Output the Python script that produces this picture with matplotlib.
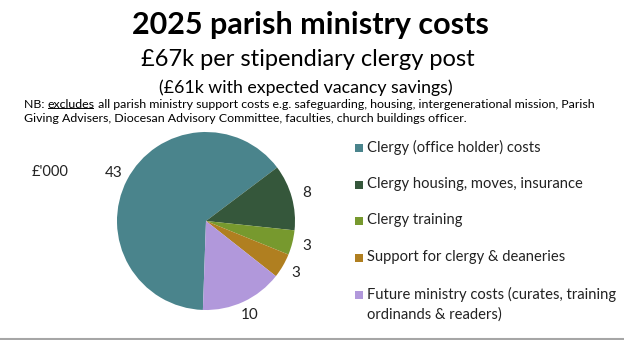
import matplotlib
matplotlib.use("Agg")
import matplotlib.pyplot as plt
from matplotlib.patches import Rectangle
from matplotlib.lines import Line2D

plt.rcParams['font.family'] = ['Lato', 'DejaVu Sans']

categories = ["Clergy (office holder) costs",
              "Clergy housing, moves, insurance",
              "Clergy training",
              "Support for clergy & deaneries",
              "Future ministry costs (curates, training\nordinands & readers)"]
values = [43, 8, 3, 3, 10]
colors = ["#4A848C", "#35573B", "#77992E", "#B07F20", "#B198DB"]

W, H = 624, 340
fig = plt.figure(figsize=(W / 100, H / 100), dpi=100)

def fx(px):
    return px / W

def fy(py):
    return 1 - py / H

# Titles
fig.text(fx(310), fy(25), "2025 parish ministry costs", ha="center", va="center",
         fontsize=22, fontweight="bold", color="black")
fig.text(fx(308), fy(60), "£67k per stipendiary clergy post", ha="center", va="center",
         fontsize=17, color="black")
fig.text(fx(306), fy(88), "(£61k with expected vacancy savings)", ha="center", va="center",
         fontsize=12.8, color="black")

# NB note with underlined word
fig.canvas.draw()
r = fig.canvas.get_renderer()
nb_fs = 8.9
y1 = fy(104)
t1 = fig.text(fx(24), y1, "NB: ", ha="left", va="center", fontsize=nb_fs)
bb1 = t1.get_window_extent(r)
t2 = fig.text(bb1.x1 / W, y1, "excludes", ha="left", va="center", fontsize=nb_fs)
bb2 = t2.get_window_extent(r)
t3 = fig.text(bb2.x1 / W, y1,
              " all parish ministry support costs e.g. safeguarding, housing, intergenerational mission, Parish",
              ha="left", va="center", fontsize=nb_fs)
uy = (bb2.y0 + 2) / H
fig.add_artist(Line2D([(bb2.x0 + 0.5) / W, (bb2.x1 - 1.5) / W], [uy, uy], color="black", lw=0.7))
fig.text(fx(24), fy(118),
         "Giving Advisers, Diocesan Advisory Committee, faculties, church buildings officer.",
         ha="left", va="center", fontsize=nb_fs)

# Pie
cx, cy, R = 206, 221, 89
ax = fig.add_axes([fx(cx - R), fy(cy + R), 2 * R / W, 2 * R / H])
wedges, texts = ax.pie(values, colors=colors, startangle=268, counterclock=False,
                       labels=[str(v) for v in values], labeldistance=1.17,
                       wedgeprops=dict(linewidth=0),
                       textprops=dict(fontsize=11, color="#222222"))
for t in texts:
    t.set_ha("center")
    t.set_va("center")
ax.set_xlim(-1, 1)
ax.set_ylim(-1, 1)
ax.set_aspect("equal")

fig.text(fx(32), fy(172), "£'000", ha="left", va="center", fontsize=10.5, color="#222222")

# Legend (manual)
rows_y = [148, 185, 221, 258, 295]
for lab, col, yy in zip(categories, colors, rows_y):
    fig.add_artist(Rectangle((fx(355), fy(yy + 4)), 8 / W, 8 / H, facecolor=col,
                             edgecolor="none", transform=fig.transFigure))
    fig.text(fx(367), fy(yy - 8), lab, ha="left", va="top", fontsize=10.6,
             color="#222222", linespacing=1.45)

# Bottom border line
fig.add_artist(Line2D([0, 1], [1.5 / H, 1.5 / H], color="#A6A6A6", lw=1.5))

fig.savefig("out.png", dpi=100, facecolor="white")
